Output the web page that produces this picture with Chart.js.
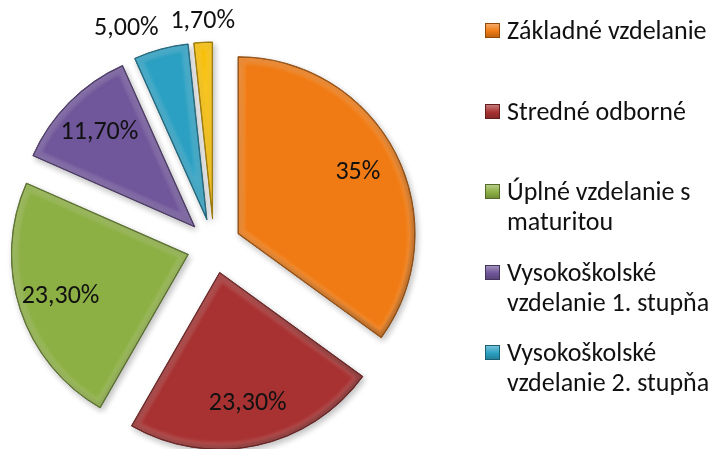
<!DOCTYPE html>
<html>
<head>
<meta charset="utf-8">
<script src="https://cdn.jsdelivr.net/npm/chart.js@4/dist/chart.umd.min.js"></script>
<style>
  html, body { margin: 0; padding: 0; background: #ffffff; }
  #wrap { position: relative; width: 717px; height: 449px; overflow: hidden; }
  #chart { position: absolute; left: 0; top: 0; }
  .item { position: absolute; left: 485px; width: 232px; font-family: Carlito, Calibri, Lato, sans-serif; font-size: 26px; line-height: 30px; color: #111; }
  .item .box { position: absolute; left: 0; width: 15px; height: 15px; box-sizing: border-box; }
  .item .txt { position: absolute; left: 22px; width: 210px; white-space: normal; }
</style>
</head>
<body>
<div id="wrap">
  <canvas id="chart" width="717" height="449"></canvas>
  <div id="legend"></div>
</div>
<script>
// Education level categories and their shares (%)
const categories = [
  'Základné vzdelanie',
  'Stredné odborné',
  'Úplné vzdelanie s maturitou',
  'Vysokoškolské vzdelanie 1. stupňa',
  'Vysokoškolské vzdelanie 2. stupňa',
  'Vysokoškolské vzdelanie 3. stupňa'
];
const shares = [35, 23.3, 23.3, 11.7, 5.0, 1.7];
const labelDecimals = [0, 2, 2, 2, 2, 2];
const sliceColors = ['#F07B14', '#A83232', '#8DB045', '#70569A', '#2CA0C2', '#F8BE00'];
const legendShown = 5;

const FONT = 'Carlito, Calibri, Lato, sans-serif';
const EXPLODE = 27;

function shade(hex, f, a) {
  const n = parseInt(hex.slice(1), 16);
  let r = (n >> 16) & 255, g = (n >> 8) & 255, b = n & 255;
  if (f < 0) { r *= 1 + f; g *= 1 + f; b *= 1 + f; }
  else { r += (255 - r) * f; g += (255 - g) * f; b += (255 - b) * f; }
  return 'rgba(' + Math.round(r) + ',' + Math.round(g) + ',' + Math.round(b) + ',' + (a === undefined ? 1 : a) + ')';
}

function fmt(v, d) {
  return v.toFixed(d).replace('.', ',') + '%';
}

// Draws each slice pulled out from the centre, with a soft bevel and shadow
const explodedSlices = {
  id: 'explodedSlices',
  beforeDatasetsDraw(chart) {
    const ctx = chart.ctx;
    const meta = chart.getDatasetMeta(0);
    meta.data.forEach((arc, i) => {
      const mid = (arc.startAngle + arc.endAngle) / 2;
      const dx = Math.cos(mid) * EXPLODE, dy = Math.sin(mid) * EXPLODE;
      const R = arc.outerRadius;
      const base = sliceColors[i];

      ctx.save();
      ctx.translate(dx, dy);
      ctx.shadowColor = 'rgba(0,0,0,0.25)';
      ctx.shadowBlur = 6;
      ctx.shadowOffsetX = 2;
      ctx.shadowOffsetY = 3;
      arc.draw(ctx);
      ctx.restore();

      ctx.save();
      ctx.translate(dx, dy);
      ctx.beginPath();
      ctx.moveTo(arc.x, arc.y);
      ctx.arc(arc.x, arc.y, R, arc.startAngle, arc.endAngle);
      ctx.closePath();
      ctx.clip();
      ctx.lineJoin = 'miter';
      // soft light band just inside the edges
      ctx.filter = 'blur(1.5px)';
      ctx.lineWidth = 14;
      ctx.strokeStyle = shade(base, 0.3, 0.45);
      ctx.stroke();
      ctx.lineWidth = 6;
      ctx.strokeStyle = shade(base, 0.25, 0.35);
      ctx.stroke();
      // darker rim facing away from the light
      const g = ctx.createLinearGradient(arc.x - R, arc.y - R, arc.x + R, arc.y + R);
      g.addColorStop(0, 'rgba(0,0,0,0)');
      g.addColorStop(0.5, 'rgba(0,0,0,0.05)');
      g.addColorStop(1, 'rgba(0,0,0,0.3)');
      ctx.lineWidth = 8;
      ctx.strokeStyle = g;
      ctx.stroke();
      ctx.filter = 'none';
      ctx.lineWidth = 1.6;
      ctx.strokeStyle = shade(base, -0.45, 0.85);
      ctx.stroke();
      ctx.restore();
    });
    return false;
  },
  afterDraw(chart) {
    const ctx = chart.ctx;
    const meta = chart.getDatasetMeta(0);
    ctx.save();
    ctx.font = '26px ' + FONT;
    ctx.fillStyle = '#111111';
    meta.data.forEach((arc, i) => {
      const mid = (arc.startAngle + arc.endAngle) / 2;
      const ux = Math.cos(mid), uy = Math.sin(mid);
      const cx = arc.x + ux * EXPLODE, cy = arc.y + uy * EXPLODE;
      const R = arc.outerRadius;
      const text = fmt(shares[i], labelDecimals[i]);
      if (shares[i] >= 10) {
        ctx.textAlign = 'center';
        ctx.textBaseline = 'middle';
        ctx.fillText(text, cx + ux * R * 0.76, cy + uy * R * 0.76);
      } else {
        const px = cx + ux * (R + 8), py = cy + uy * (R + 8);
        ctx.textAlign = ux < -0.1 ? 'right' : (ux > 0.1 ? 'left' : 'center');
        ctx.textBaseline = uy < 0 ? 'bottom' : 'top';
        ctx.fillText(text, px, py);
      }
    });
    ctx.restore();
  }
};

new Chart(document.getElementById('chart'), {
  type: 'pie',
  data: {
    labels: categories,
    datasets: [{
      data: shares,
      backgroundColor: sliceColors,
      borderColor: sliceColors.map(c => shade(c, -0.45)),
      borderWidth: 1,
      radius: 177
    }]
  },
  options: {
    responsive: false,
    animation: false,
    radius: 177,
    rotation: 0,
    layout: { padding: { left: 0, right: 289, top: 43, bottom: 0 } },
    plugins: { legend: { display: false }, tooltip: { enabled: false } }
  },
  plugins: [explodedSlices]
});

// Legend on the right (only the first entries fit in the space)
const legend = document.getElementById('legend');
categories.slice(0, legendShown).forEach((name, i) => {
  const c = sliceColors[i];
  const item = document.createElement('div');
  item.className = 'item';
  item.style.top = (15 + i * 80.5) + 'px';
  const box = document.createElement('span');
  box.className = 'box';
  box.style.top = '8px';
  box.style.background = 'linear-gradient(to bottom, ' + shade(c, 0.35) + ', ' + c + ' 55%, ' + shade(c, -0.2) + ')';
  box.style.border = '1px solid ' + shade(c, -0.4);
  const txt = document.createElement('span');
  txt.className = 'txt';
  txt.textContent = name;
  item.appendChild(box);
  item.appendChild(txt);
  legend.appendChild(item);
});
</script>
</body>
</html>
